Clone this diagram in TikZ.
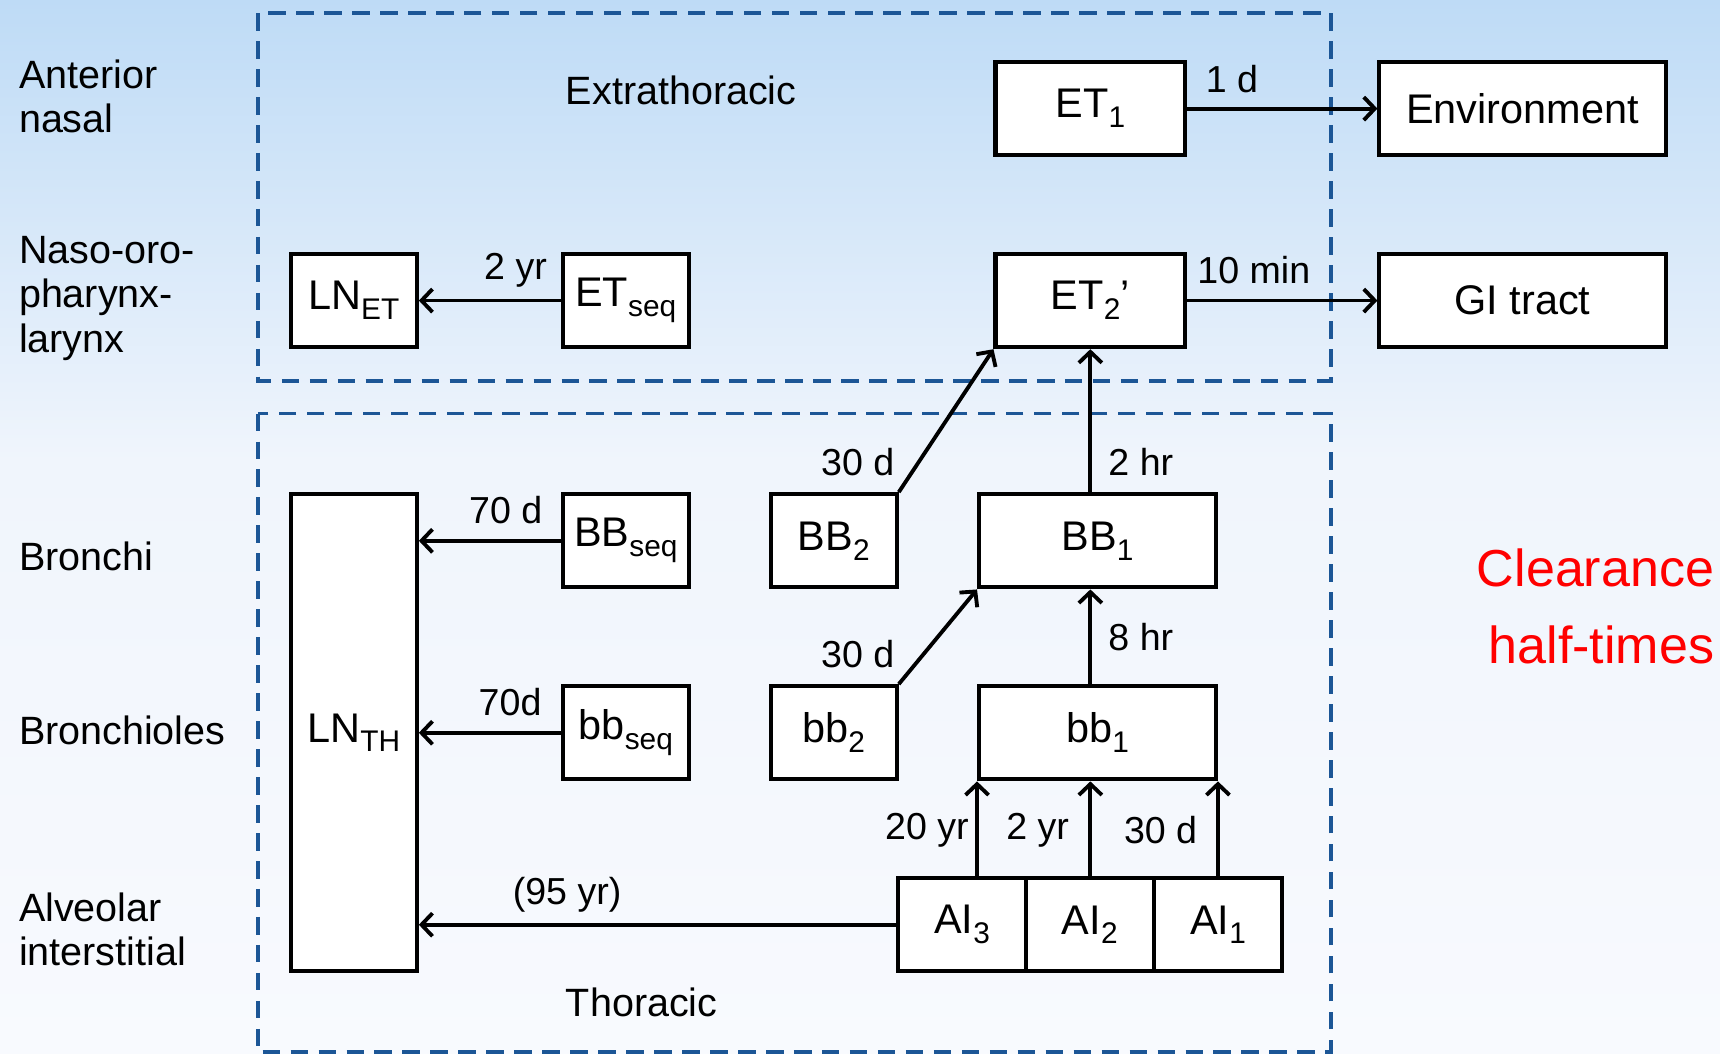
\documentclass[tikz,border=0pt]{standalone}
\usepackage{fontspec}
\setmainfont{Liberation Sans}
\usetikzlibrary{arrows.meta,positioning}
\definecolor{bgtop}{RGB}{190,219,246}
\definecolor{bgmid}{RGB}{240,245,252}
\definecolor{bgbot}{RGB}{248,250,254}
\definecolor{regionblue}{RGB}{28,86,150}
\definecolor{halfred}{RGB}{255,0,0}
\newcommand{\lsub}[1]{\raisebox{-0.24em}{\scalebox{0.72}{#1}}}

\begin{document}
\begin{tikzpicture}[x=0.02cm,y=-0.02cm,
every node/.style={inner sep=0pt},
box/.style={draw,line width=2.1pt,fill=white,minimum height=1.7cm,
  font=\fontsize{21.5}{24}\selectfont},
small/.style={box,minimum width=2.3cm},
region/.style={draw=regionblue,line width=2pt,dash pattern=on 0.32cm off 0.19cm},
arr/.style={line width=2pt,-{Straight Barb[length=0.2cm,width=0.42cm,line width=2pt]}},
time/.style={font=\fontsize{19.5}{22}\selectfont},
part/.style={font=\fontsize{20.5}{23}\selectfont,align=left,anchor=west}]
\useasboundingbox (0,0) rectangle (1568,960);
\shade[top color=bgtop,bottom color=bgmid] (0,0) rectangle (1568,420);
\shade[top color=bgmid,bottom color=bgbot] (0,420) rectangle (1568,960);
\begin{scope}
\clip (0,0) rectangle (1568,960);
\draw[region] (235,12) rectangle (1213,347);
\draw[region] (235,377) rectangle (1213,959);
\end{scope}
% regions of the airways
\node[part] (AN) at (17,88) {Anterior\\nasal};
\node[part] (NOPL) at (17,272) {Naso-oro-\\pharynx-\\larynx};
\node[part] (Br) at (17,507) {Bronchi};
\node[part] (Bl) at (17,666) {Bronchioles};
\node[part] (AlI) at (17,847) {Alveolar\\interstitial};
\node[font=\fontsize{20.5}{23}\selectfont] (ExT) at (621,82) {Extrathoracic};
\node[font=\fontsize{20.5}{23}\selectfont] (ThT) at (585,914) {Thoracic};
\node[font=\fontsize{27}{39.8}\selectfont,text=halfred,align=right,anchor=east] (CHT) at (1563,553) {Clearance\\half-times};
% compartments
\node[box,minimum width=3.46cm] (ETone) at (994,99) {ET\lsub{1}};
\node[box,minimum width=5.22cm] (Env) at (1388,99) {Environment};
\node[box,minimum width=3.46cm] (ETtwo) at (994,274) {ET\lsub{2}’};
\node[box,minimum width=5.22cm] (GI) at (1388,274) {GI tract};
\node[small] (LNET) at (322.5,274) {LN\lsub{ET}};
\node[small] (ETseq) at (570.5,274) {ET\lsub{seq}};
\node[small,minimum height=8.7cm] (LNTH) at (322.5,668) {LN\lsub{TH}};
\node[small] (BBseq) at (570.5,493) {BB\lsub{seq}};
\node[small] (bbseq) at (570.5,668) {bb\lsub{seq}};
\node[small] (BBtwo) at (760,493) {BB\lsub{2}};
\node[small] (bbtwo) at (760,668) {bb\lsub{2}};
\node[box,minimum width=4.32cm] (BBone) at (1000.5,493) {BB\lsub{1}};
\node[box,minimum width=4.32cm] (bbone) at (1000.5,668) {bb\lsub{1}};
\node[box,minimum width=2.34cm] (AIthree) at (877,843) {AI\lsub{3}};
\node[box,minimum width=2.34cm] (AItwo) at (993.5,843) {AI\lsub{2}};
\node[box,minimum width=2.34cm] (AIone) at (1110.5,843) {AI\lsub{1}};
% clearance paths
\draw[arr] (ETone) -- (Env);
\draw[arr] (ETtwo) -- (GI);
\draw[arr] (ETseq) -- (LNET);
\draw[arr] (BBseq.west) -- (BBseq.west -| LNTH.east);
\draw[arr] (bbseq) -- (LNTH);
\draw[arr] (AIthree.west) -- (AIthree.west -| LNTH.east);
\draw[arr] (BBtwo.north east) -- (ETtwo.south west);
\draw[arr] (bbtwo.north east) -- (BBone.south west);
\draw[arr] (ETtwo.south |- BBone.north) -- (ETtwo.south);
\draw[arr] (ETtwo.south |- bbone.north) -- (ETtwo.south |- BBone.south);
\draw[arr] (bbone.south west |- AIthree.north) -- (bbone.south west);
\draw[arr] (ETtwo.south |- AItwo.north) -- (ETtwo.south |- bbone.south);
\draw[arr] (bbone.south east |- AIone.north) -- (bbone.south east);
% half-times
\node[time] (tEnv) at (1123,72) {1 d};
\node[time] (tGI) at (1143,246) {10 min};
\node[time] (tLNET) at (470,246) {2 yr};
\node[time] (tBBseq) at (461,465) {70 d};
\node[time] (tbbseq) at (465,640) {70d};
\node[time] (tAI) at (517,816) {(95 yr)};
\node[time] (tBBtwo) at (782,421) {30 d};
\node[time] (tbbtwo) at (782,596) {30 d};
\node[time] (tBBone) at (1040,421) {2 hr};
\node[time] (tbbone) at (1040,581) {8 hr};
\node[time] (tAIthree) at (845,757) {20 yr};
\node[time] (tAItwo) at (946,757) {2 yr};
\node[time] (tAIone) at (1058,757) {30 d};
\end{tikzpicture}
\end{document}
